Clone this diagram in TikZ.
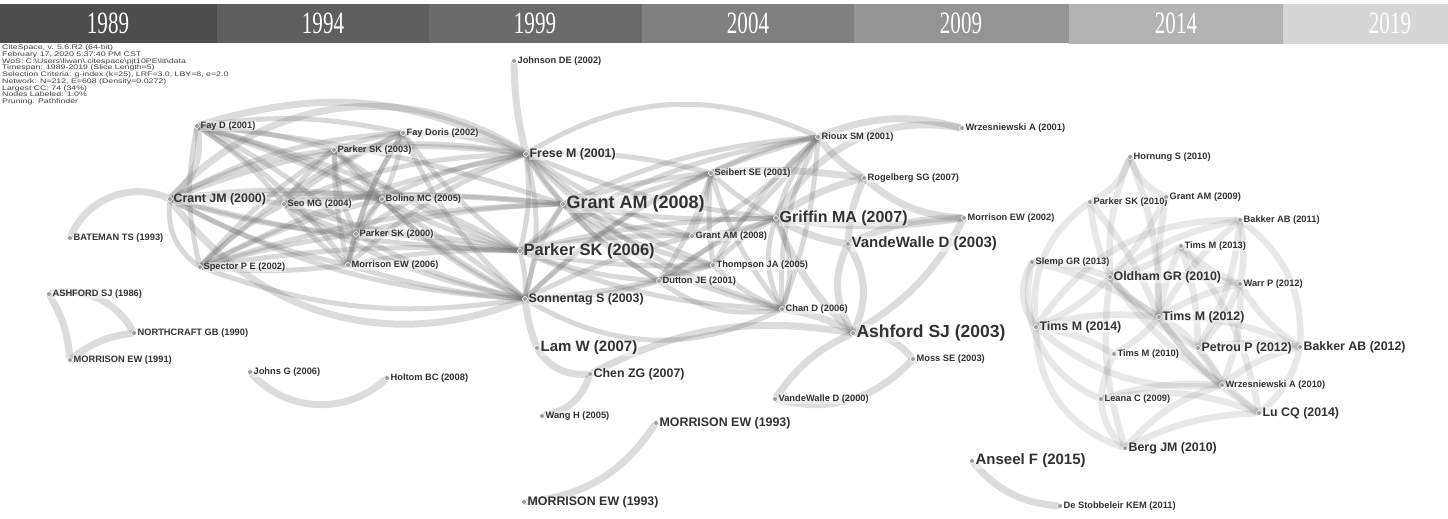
\documentclass[tikz,border=0pt]{standalone}
\usepackage{fontspec}
\setmainfont{Liberation Serif}
\newfontfamily\lblfont{Liberation Sans}
\pgfdeclarelayer{links}
\pgfsetlayers{links,main}
\definecolor{tba}{HTML}{4D4D4D}
\definecolor{tbb}{HTML}{5F5F5F}
\definecolor{tbc}{HTML}{6B6B6B}
\definecolor{tbd}{HTML}{808080}
\definecolor{tbe}{HTML}{949494}
\definecolor{tbf}{HTML}{B3B3B3}
\definecolor{tbg}{HTML}{D6D6D6}
% citation node: dot with its label on the right
\newcommand{\citenode}[5]{\node[dot,label={[fs=#4]right:#5}] (#1) at (#2,#3) {};}
\begin{document}
\begin{tikzpicture}[x=1pt,y=-1pt,
  dot/.style={circle,fill=black!38,draw=white,line width=0.6pt,inner sep=0pt,minimum size=5pt},
  lbase/.style={text=black!80,inner sep=0.6pt,fill=white,fill opacity=0.45,text opacity=1},
  fs/.style={lbase,font=\lblfont\bfseries\fontsize{#1}{#1}\selectfont},
  lk/.style={draw=black!55,draw opacity=0.27,line width=5pt,line cap=round},
  lkw/.style={draw=black!55,draw opacity=0.25,line width=7pt,line cap=round},
  lkr/.style={draw=black!55,draw opacity=0.16,line width=6.5pt,line cap=round},
  yr/.style={text=white,inner sep=0pt,font=\fontsize{31}{31}\selectfont}]
\useasboundingbox (0,0) rectangle (1448,519);

% ---- time line ----
\fill[tba] (0,4) rectangle (217,43);
\fill[tbb] (217,4) rectangle (429,43);
\fill[tbc] (429,4) rectangle (642,43);
\fill[tbd] (642,4) rectangle (854,43);
\fill[tbe] (854,4) rectangle (1069,43);
\fill[tbf] (1069,4) rectangle (1283,44.5);
\fill[tbg] (1283,4) rectangle (1448,44.5);
\node[yr] (y1989) at (108,23.5) {\scalebox{0.68}[1]{1989}};
\node[yr] (y1994) at (323,23.5) {\scalebox{0.68}[1]{1994}};
\node[yr] (y1999) at (535,23.5) {\scalebox{0.68}[1]{1999}};
\node[yr] (y2004) at (748,23.5) {\scalebox{0.68}[1]{2004}};
\node[yr] (y2009) at (961,23.5) {\scalebox{0.68}[1]{2009}};
\node[yr] (y2014) at (1176,23.5) {\scalebox{0.68}[1]{2014}};
\node[yr] (y2019) at (1390,23.5) {\scalebox{0.68}[1]{2019}};

% ---- run information ----
\node[anchor=north west,inner sep=0pt,text=black!75] (info) at (2,45)
 {\scalebox{1.33}[1]{\lblfont\fontsize{6.6}{6.3}\selectfont\begin{tabular}{@{}l@{}}
 CiteSpace, v. 5.6.R2 (64-bit)\\
 February 17, 2020 5:37:40 PM CST\\
 WoS: C:\textbackslash Users\textbackslash liwan\textbackslash .citespace\textbackslash pjt10PE\textbackslash lit\textbackslash data\\
 Timespan: 1989-2019 (Slice Length=5)\\
 Selection Criteria: g-index (k=25), LRF=3.0, LBY=8, e=2.0\\
 Network: N=212, E=608 (Density=0.0272)\\
 Largest CC: 74 (34\%)\\
 Nodes Labeled: 1.0\%\\
 Pruning: Pathfinder
 \end{tabular}}};

% ---- nodes ----
\citenode{fayd}{197}{126}{9.3}{Fay D (2001)}
\citenode{faydoris}{403}{133}{9.3}{Fay Doris (2002)}
\citenode{pkb}{334}{150}{9.3}{Parker SK (2003)}
\citenode{crant}{170}{199}{12.4}{Crant JM (2000)}
\citenode{seo}{284}{204}{9.3}{Seo MG (2004)}
\citenode{bolino}{382}{199}{9.3}{Bolino MC (2005)}
\citenode{bateman}{70}{238}{9.3}{BATEMAN TS (1993)}
\citenode{pka}{356}{234}{9.3}{Parker SK (2000)}
\citenode{spector}{200}{267}{9.3}{Spector P E (2002)}
\citenode{morc}{348}{265}{9.3}{Morrison EW (2006)}
\citenode{asha}{49}{294}{9.3}{ASHFORD SJ (1986)}
\citenode{north}{134}{333}{9.3}{NORTHCRAFT GB (1990)}
\citenode{mora}{70}{360}{9.3}{MORRISON EW (1991)}
\citenode{johns}{250}{372}{9.3}{Johns G (2006)}
\citenode{holtom}{387}{378}{9.3}{Holtom BC (2008)}
\citenode{johnson}{514}{61}{9.3}{Johnson DE (2002)}
\citenode{frese}{526}{154}{12.4}{Frese M (2001)}
\citenode{granta}{563}{204}{18}{Grant AM (2008)}
\citenode{pkc}{520}{251}{16.5}{Parker SK (2006)}
\citenode{sonn}{525}{299}{12.4}{Sonnentag S (2003)}
\citenode{seibert}{711}{173}{9.3}{Seibert SE (2001)}
\citenode{rioux}{818}{137}{9.3}{Rioux SM (2001)}
\citenode{wrza}{962}{128}{9.3}{Wrzesniewski A (2001)}
\citenode{rogel}{864}{178}{9.3}{Rogelberg SG (2007)}
\citenode{griffin}{776}{218}{16}{Griffin MA (2007)}
\citenode{morb}{964}{218}{9.3}{Morrison EW (2002)}
\citenode{vdwb}{848}{244}{15}{VandeWalle D (2003)}
\citenode{grantb}{692}{236}{9.3}{Grant AM (2008)}
\citenode{thomp}{713}{265}{9.3}{Thompson JA (2005)}
\citenode{dutton}{659}{281}{9.3}{Dutton JE (2001)}
\citenode{chan}{782}{309}{9.3}{Chan D (2006)}
\citenode{ashb}{853}{333}{17.5}{Ashford SJ (2003)}
\citenode{moss}{913}{359}{9.3}{Moss SE (2003)}
\citenode{vdwa}{775}{399}{9.3}{VandeWalle D (2000)}
\citenode{lam}{537}{348}{15}{Lam W (2007)}
\citenode{chen}{590}{374}{12.4}{Chen ZG (2007)}
\citenode{wang}{542}{416}{9.3}{Wang H (2005)}
\citenode{mord}{656}{423}{12.4}{MORRISON EW (1993)}
\citenode{more}{524}{502}{12.4}{MORRISON EW (1993)}
\citenode{hornung}{1130}{157}{9.3}{Hornung S (2010)}
\citenode{pkd}{1090}{202}{9.3}{Parker SK (2010)}
\citenode{grantc}{1166}{197}{9.3}{Grant AM (2009)}
\citenode{baka}{1240}{220}{9.3}{Bakker AB (2011)}
\citenode{timsd}{1181}{246}{9.3}{Tims M (2013)}
\citenode{slemp}{1032}{262}{9.3}{Slemp GR (2013)}
\citenode{oldham}{1110}{277}{12.4}{Oldham GR (2010)}
\citenode{warr}{1240}{284}{9.3}{Warr P (2012)}
\citenode{timsc}{1159}{317}{12.4}{Tims M (2012)}
\citenode{timse}{1036}{327}{12.4}{Tims M (2014)}
\citenode{timsa}{1114}{354}{9.3}{Tims M (2010)}
\citenode{petrou}{1198}{348}{12.4}{Petrou P (2012)}
\citenode{bakb}{1300}{347}{12.4}{Bakker AB (2012)}
\citenode{wrzb}{1222}{385}{9.3}{Wrzesniewski A (2010)}
\citenode{leana}{1101}{399}{9.3}{Leana C (2009)}
\citenode{lu}{1259}{413}{12.4}{Lu CQ (2014)}
\citenode{berg}{1125}{448}{12.4}{Berg JM (2010)}
\citenode{anseel}{972}{461}{15}{Anseel F (2015)}
\citenode{destob}{1060}{506}{9.3}{De Stobbeleir KEM (2011)}

% ---- links ----
\begin{pgfonlayer}{links}
% dense early cluster
\foreach \a/\b/\c in {
  fayd/seo/8, fayd/bolino/6, fayd/pka/8, fayd/morc/10, fayd/pkb/6, fayd/faydoris/10,
  fayd/pkc/6, fayd/sonn/10, fayd/granta/6, fayd/spector/-12,
  crant/seo/6, crant/bolino/8, crant/pka/-6, crant/morc/-8, crant/pkb/10, crant/faydoris/12,
  crant/frese/14, crant/pkc/-6, crant/sonn/-12, crant/granta/4, crant/spector/-30,
  spector/pkb/8, spector/faydoris/10, spector/bolino/6, spector/seo/8, spector/frese/8,
  spector/pkc/6, spector/sonn/-14, spector/morc/-6, spector/pka/4, spector/granta/8,
  pkb/seo/-8, pkb/bolino/6, pkb/pka/-10, pkb/morc/-6, pkb/frese/8, pkb/pkc/-8, pkb/sonn/-10, pkb/faydoris/6,
  faydoris/seo/-6, faydoris/bolino/8, faydoris/pka/-8, faydoris/morc/-10, faydoris/frese/10,
  faydoris/pkc/-8, faydoris/sonn/-12,
  seo/bolino/8, seo/pka/-6, seo/morc/-8, seo/frese/10, seo/pkc/-6, seo/sonn/-10, seo/granta/6,
  bolino/pka/-8, bolino/morc/-10, bolino/frese/8, bolino/pkc/-6, bolino/sonn/-10,
  pka/morc/-6, pka/frese/8, pka/pkc/6, pka/sonn/-8, pka/granta/6,
  morc/frese/10, morc/pkc/6, morc/sonn/-6}
  \draw[lk] (\a) to[bend left=\c] (\b);
% middle cluster
\foreach \a/\b/\c in {
  frese/granta/-6, frese/pkc/10, frese/sonn/14, frese/seibert/8, frese/griffin/-8,
  frese/thomp/-10, frese/dutton/-12, frese/chan/-14, frese/grantb/-8, frese/rioux/28,
  granta/seibert/6, granta/rioux/10, granta/griffin/-6, granta/grantb/-8, granta/thomp/-10,
  granta/dutton/-8, granta/chan/-12, granta/pkc/10, granta/sonn/-10,
  pkc/seibert/8, pkc/rioux/12, pkc/griffin/6, pkc/thomp/-6, pkc/dutton/-8, pkc/chan/-10,
  pkc/grantb/6, pkc/sonn/8,
  sonn/dutton/-8, sonn/thomp/-6, sonn/chan/-28, sonn/grantb/6, sonn/seibert/10, sonn/rioux/14,
  seibert/rioux/8, seibert/griffin/-8, seibert/chan/-10, seibert/dutton/8, seibert/thomp/-6,
  seibert/grantb/6,
  rioux/griffin/-10, rioux/chan/-14, rioux/chan/8, rioux/dutton/10, rioux/thomp/-8, rioux/grantb/8,
  griffin/chan/22, griffin/chan/-22, griffin/dutton/-8, griffin/grantb/8, griffin/thomp/-8,
  dutton/chan/-22, dutton/thomp/8, thomp/chan/-10}
  \draw[lk] (\a) to[bend left=\c] (\b);
% wide outer arcs
\draw[lkw] (crant) to[bend right=30] (fayd);
\draw[lkw] (crant) to[bend left=40] (frese);
\draw[lkw] (crant) to[bend right=38] (sonn);
\draw[lkw] (fayd) to[bend left=22] (frese);
\draw[lkw] (bateman) to[bend left=45] (crant);
\draw[lkw] (asha) to[bend left=35] (north);
\draw[lkw] (asha) to[bend left=12] (mora);
\draw[lkw] (north) to[bend right=15] (mora);
\draw[lkw] (johns) to[bend right=45] (holtom);
\draw[lkw] (johnson) to[bend right=6] (frese);
\draw[lkw] (sonn) to[bend right=6] (lam);
\draw[lkw] (lam) to[bend right=30] (chen);
\draw[lkw] (chen) to[bend left=30] (wang);
\draw[lkw] (chen) to[bend left=18] (ashb);
\draw[lkw] (mord) to[bend left=25] (more);
\draw[lkw] (rioux) to[bend left=18] (wrza);
\draw[lkw] (griffin) to[bend left=35] (wrza);
\draw[lkw] (seibert) to[bend left=6] (rogel);
\draw[lkw] (rioux) to[bend right=10] (rogel);
\draw[lkw] (griffin) to[bend left=10] (rogel);
\draw[lkw] (griffin) to[bend right=8] (morb);
\draw[lkw] (griffin) to[bend right=10] (vdwb);
\draw[lkw] (rogel) to[bend right=18] (morb);
\draw[lkw] (rogel) to[bend right=10] (vdwb);
\draw[lkw] (vdwb) to[bend left=12] (morb);
\draw[lkw] (ashb) to[bend right=15] (morb);
\draw[lkw] (vdwb) to[bend right=28] (ashb);
\draw[lkw] (vdwb) to[bend left=28] (ashb);
\draw[lkw] (ashb) to[bend left=25] (moss);
\draw[lkw] (moss) to[bend left=30] (vdwa);
\draw[lkw] (ashb) to[bend right=15] (vdwa);
\draw[lkw] (chan) to[bend left=10] (ashb);
\draw[lkw] (griffin) to[bend right=12] (ashb);
\draw[lkw] (anseel) to[bend right=22] (destob);
% later cluster
\foreach \a/\b/\c in {
  hornung/pkd/22, hornung/grantc/-22, hornung/oldham/-12, hornung/timsc/10,
  pkd/timse/-30, pkd/oldham/-8, pkd/timsc/8, grantc/timsc/-6, grantc/oldham/8,
  baka/timse/-28, baka/oldham/-12, baka/timsc/-10, baka/petrou/12, baka/bakb/28, baka/warr/10,
  timsd/timsc/-8, timsd/petrou/8, timsd/warr/-10, timsd/oldham/10, timsd/lu/14,
  slemp/timse/-32, slemp/oldham/8, slemp/timsc/10, slemp/leana/-40,
  oldham/timsc/-8, oldham/timse/10, oldham/petrou/-10, oldham/warr/8, oldham/berg/-12, oldham/wrzb/-10,
  warr/bakb/-12, warr/petrou/10, warr/timsc/-8, warr/wrzb/12,
  timsc/petrou/10, timsc/bakb/12, timsc/timse/-10, timsc/timsa/10, timsc/wrzb/-8, timsc/lu/-10,
  timse/timsa/10, timse/wrzb/-22, timse/berg/-35,
  petrou/bakb/8, petrou/lu/-10, petrou/wrzb/8,
  bakb/lu/18, bakb/wrzb/-12,
  leana/berg/-20, leana/lu/15, leana/wrzb/10, leana/timsa/8,
  berg/wrzb/15, berg/lu/12}
  \draw[lkr] (\a) to[bend left=\c] (\b);
\end{pgfonlayer}
\end{tikzpicture}
\end{document}
